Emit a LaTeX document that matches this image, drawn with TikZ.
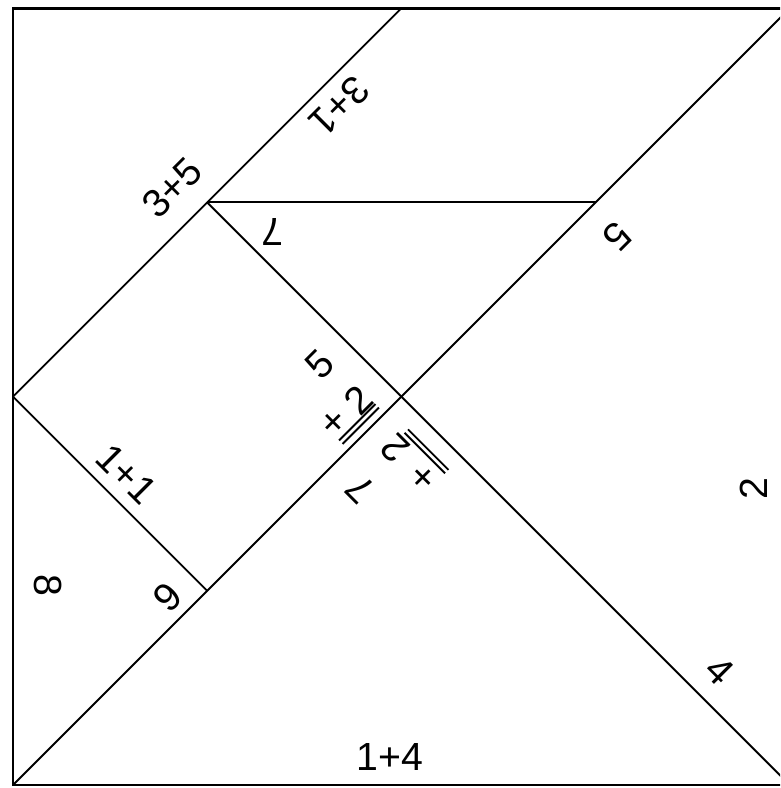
\documentclass[tikz,border=0pt]{standalone}
\usepackage{fontspec}
\setmainfont{Liberation Sans}

\tikzset{
  frame/.style={line width=1.5pt},
  piece/.style={line width=1.1pt},
  num/.style={font=\fontsize{23}{27}\selectfont, inner sep=0pt},
  sumbar/.style={line width=1.1pt},
}

\begin{document}
\begin{tikzpicture}[x=2cm, y=2cm]
    % Canvas: the square runs a bit past the right edge of the picture
    \useasboundingbox (-0.134,-0.031) rectangle (7.90,8.085);
    \fill[white] (-0.134,-0.031) rectangle (7.90,8.085);
    \clip (-0.134,-0.031) rectangle (7.90,8.085);

    % Corners of the tangram pieces
    \coordinate (bl) at (0,0);
    \coordinate (br) at (8,0);
    \coordinate (tr) at (8,8);
    \coordinate (c) at (4,4);
    \coordinate (tm) at (4,8);
    \coordinate (lm) at (0,4);
    \coordinate (p) at (2,6);
    \coordinate (q) at (6,6);
    \coordinate (r) at (2,2);

    % Outline and cuts
    \draw[frame] (bl) rectangle (tr);
    \draw[piece] (bl) -- (tr);
    \draw[piece] (c) -- (br);
    \draw[piece] (lm) -- (tm);
    \draw[piece] (p) -- (c);
    \draw[piece] (p) -- (q);
    \draw[piece] (lm) -- (r);

    % Edge labels
    \node[num, rotate=45] (lthreefive) at (1.64,6.15) {3+5};
    \node[num, rotate=225] (lthreeone) at (3.36,6.99) {3+1};
    \node[num, rotate=180] (lseven) at (2.67,5.70) {7};
    \node[num, rotate=225] (lfive) at (6.22,5.65) {5};
    \node[num, rotate=-45] (loneone) at (1.17,3.20) {1+1};
    \node[num, rotate=-90] (leight) at (0.36,2.06) {8};
    \node[num, rotate=45] (lnine) at (1.59,1.93) {9};
    \node[num] (lonefour) at (3.88,0.29) {1+4};
    \node[num, rotate=-45] (lfour) at (7.28,1.18) {4};
    \node[num, rotate=90] (ltwo) at (7.63,3.05) {2};

    % Stacked sum in the square
    \begin{scope}[shift={(3.563,3.965)}, rotate=45, transform shape]
      \node[num] (sqtwo) at (0,0) {2};
      \node[num] (sqfive) at (-0.02,0.546) {5};
      \node[num] (sqplus) at (-0.35,0.01) {+};
      \coordinate (sqa) at (-0.44,-0.15);
      \coordinate (sqb) at (0.09,-0.15);
      \coordinate (sqc) at (-0.44,-0.20);
      \coordinate (sqd) at (0.09,-0.20);
      \draw[sumbar] (sqa) -- (sqb);
      \draw[sumbar] (sqc) -- (sqd);
    \end{scope}

    % Stacked sum in the bottom triangle
    \begin{scope}[shift={(3.934,3.471)}, rotate=135, transform shape]
      \node[num] (trtwo) at (0,0) {2};
      \node[num] (trseven) at (-0.05,0.556) {7};
      \node[num] (trplus) at (-0.42,-0.01) {+};
      \coordinate (tra) at (-0.55,-0.18);
      \coordinate (trb) at (0.04,-0.18);
      \coordinate (trc) at (-0.55,-0.23);
      \coordinate (trd) at (0.04,-0.23);
      \draw[sumbar] (tra) -- (trb);
      \draw[sumbar] (trc) -- (trd);
    \end{scope}
\end{tikzpicture}
\end{document}
